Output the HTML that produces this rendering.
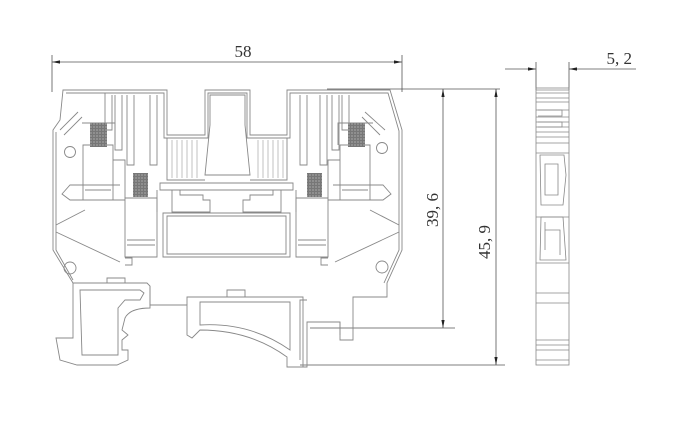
<!DOCTYPE html>
<html><head><meta charset="utf-8"><style>
html,body{margin:0;padding:0;background:#fff;width:680px;height:440px;overflow:hidden}
svg{display:block}
text{font-family:"Liberation Serif",serif;fill:#333}
</style></head><body>
<svg width="680" height="440" viewBox="0 0 680 440" xmlns="http://www.w3.org/2000/svg">
<defs>
<marker id="a" viewBox="0 0 10 6" refX="10" refY="3" markerWidth="10" markerHeight="6" orient="auto-start-reverse"><path d="M0,1 L10,3 L0,5z" fill="#222"/></marker>
<pattern id="h" width="3" height="3" patternUnits="userSpaceOnUse"><rect width="3" height="3" fill="#777"/><circle cx="1" cy="1" r="0.6" fill="#ccc"/></pattern>
</defs>
<g stroke="#555" stroke-width="0.8" fill="none">
<line x1="52" y1="55" x2="52" y2="92"/><line x1="402" y1="55" x2="402" y2="92"/>
<line x1="52" y1="62" x2="402" y2="62" marker-start="url(#a)" marker-end="url(#a)"/>
<line x1="327" y1="89" x2="500" y2="89"/>
<line x1="310" y1="328" x2="455" y2="328"/>
<line x1="300" y1="365" x2="505" y2="365"/>
<line x1="443" y1="89" x2="443" y2="328" marker-start="url(#a)" marker-end="url(#a)"/>
<line x1="496" y1="89" x2="496" y2="365" marker-start="url(#a)" marker-end="url(#a)"/>
<line x1="536" y1="62" x2="536" y2="90"/><line x1="569" y1="62" x2="569" y2="90"/>
<line x1="505" y1="69" x2="536" y2="69" marker-end="url(#a)"/>
<line x1="636" y1="69" x2="569" y2="69" marker-end="url(#a)"/>
</g>
<text x="243" y="57" font-size="17" text-anchor="middle">58</text>
<text x="632" y="64" font-size="17" text-anchor="end">5, 2</text>
<text transform="translate(438,210) rotate(-90)" font-size="17" text-anchor="middle">39, 6</text>
<text transform="translate(490,242) rotate(-90)" font-size="17" text-anchor="middle">45, 9</text>

<g stroke="#888" stroke-width="0.9" fill="none">
<!-- outer body -->
<path d="M63,90 H167 V135 H205 V90 H250 V135 H287 V90 H390 L402,130 V250 L387,283 V297 H353 V340 H340 V322 H307 V367 H287 V357 Q250,330 200,330 L192,338 L187,335 V305 H150 V286 L147,283 H73 L53,250 V130 L60,120 Z"/>
<path d="M66,93 H164 V138 H208 V93 H247 V138 H290 V93 H388 L399,131 V250 L384,283"/>
<path d="M56,132 V250 L73,280"/>
<!-- left foot -->
<path d="M73,283 V338 H56 L60,360 L77,365 H117 L128,360 V350 H122 V340 L128,335 L122,330 L125,318 Q130,308 150,308 V286"/>
<path d="M80,290 H140 L144,293 L140,300 H125 L118,308 V355 H82 Z"/>
<path d="M107,278 H125 V283 H107 Z"/>
<path d="M227,290 H245 V297 H227 Z"/>
<!-- arch -->
<path d="M187,305 V297 H303 V367"/>
<path d="M200,302 H290 V350 Q250,322 200,325 Z"/>
<path d="M340,322 V335 M307,300 H300 V360"/>
<!-- slots top -->
<path d="M105,93 V130 H112 V95 M115,95 V150 H122 V95 M127,95 V165 H134 V95 M150,95 V165 H157 V95"/>
<path d="M300,95 V165 H307 V95 M320,95 V165 H327 V95 M332,95 V150 H339 V95 M342,95 V130 H349 V95"/>
<path d="M210,95 H245 V125 L250,175 H205 L210,125 Z"/>
<path d="M167,138 V180 H205 M287,138 V180 H250"/>
<g stroke="#999" stroke-width="0.6"><path d="M172,140 V178 M177,140 V178 M182,140 V178 M187,140 V178 M192,140 V178 M197,140 V178 M258,140 V178 M263,140 V178 M268,140 V178 M273,140 V178 M278,140 V178 M283,140 V178"/></g>
<path d="M160,183 H293 V190 H160 Z M157,190 V212 M296,190 V212"/>
<path d="M163,213 H290 V257 H163 Z M167,216 H286 V254 H167 Z"/>
<path d="M172,190 V212 H210 V200 H203 V195 H180 V190 M281,190 V212 H243 V200 H250 V195 H273 V190"/>
<path d="M83,145 H113 V200 H83 Z M85,190 H111"/>
<path d="M125,198 H157 V257 H125 Z M127,240 H155 M127,245 H155"/>
<path d="M296,198 H328 V257 H296 Z M298,240 H326 M298,245 H326"/>
<path d="M340,145 H370 V200 H340 Z M342,190 H368"/>
<path d="M82,123 H115 V145 M373,123 H338 V145"/>
<path d="M113,160 H125 V198 M340,160 H328 V198"/>
<path d="M120,185 H70 L62,194 L70,200 H125 M333,185 H383 L391,194 L383,200 H328"/>
<path d="M125,258 H132 V265 H125 M328,258 H321 V265 H328"/>
<circle cx="70" cy="152" r="5.5"/><circle cx="382" cy="148" r="5.5"/>
<circle cx="70" cy="268" r="6"/><circle cx="382" cy="267" r="6"/>
<path d="M60,130 L78,112 M64,135 L82,117 M365,112 L385,130 M362,117 L380,135"/>
<path d="M56,225 L85,210 M56,232 L120,262 M399,225 L370,210 M399,232 L335,262"/>
</g>
<rect x="90" y="123" width="17" height="24" fill="url(#h)"/>
<rect x="133" y="173" width="15" height="24" fill="url(#h)"/>
<rect x="307" y="173" width="15" height="24" fill="url(#h)"/>
<rect x="348" y="123" width="17" height="24" fill="url(#h)"/>

<g stroke="#888" stroke-width="0.8" fill="none">
<rect x="536" y="88" width="33" height="277"/>
<path d="M536,90H569M536,93H569M536,98H569M536,102H569M536,110H569M536,117H569M536,122H569M536,127H569M536,132H569M536,137H569M536,143H569M536,153H569M536,217H569M536,263H569M536,293H569M536,303H569M536,340H569M536,345H569M536,350H569M536,360H569"/>
<path d="M540,155 L564,155 L566,175 L563,205 L541,205 Z M545,164 H558 V195 H545 Z"/>
<path d="M541,217 L563,217 L566,260 L540,260 Z M545,222 V250 M545,230 H560 V255"/>
<path d="M538,110 H562 V116 H538 M538,122 H562 V127 H538"/>
</g>
</svg>
</body></html>
